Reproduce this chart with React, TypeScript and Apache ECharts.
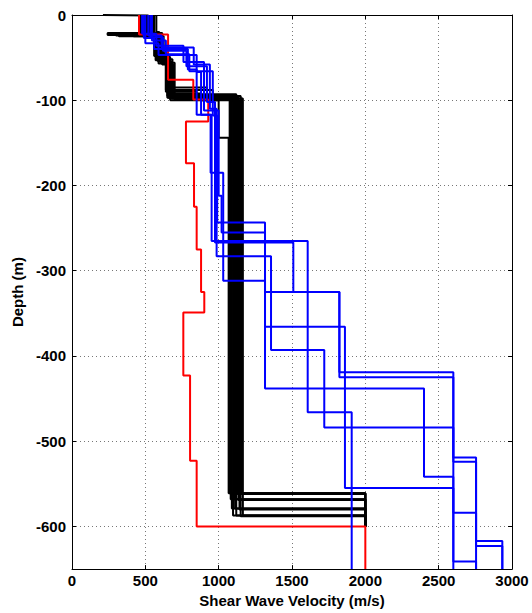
import React, { useEffect, useRef } from "react";
import * as echarts from "echarts";

// Axis ticks
const xTicks = [0, 500, 1000, 1500, 2000, 2500, 3000];
const depthTicks = [0, 100, 200, 300, 400, 500, 600];

// Red profile: layer boundary depths (m, positive down) and layer velocities (m/s)
const redDepths = [0, 23, 76, 99, 125, 174, 225, 275, 325, 349, 423, 523, 600, 650];
const redVel = [457, 655, 827, 929, 777, 832, 850, 880, 902, 759, 805, 850, 2000];

// Blue profiles
const blueDepths: number[][] = [
  [0, 27, 40, 64, 117, 265, 466, 650],
  [0, 24, 38, 58, 110, 283, 393, 484, 524, 623, 650],
  [0, 30, 46, 66, 118, 243.5, 365.6, 555, 641, 650],
  [0, 33, 47, 67, 117, 185, 311.7, 438, 541.6, 584, 650],
  [0, 26, 42, 60, 102, 267, 325, 419, 519, 617, 650],
  [0, 22, 36, 55, 112, 212, 255, 325, 425, 650],
];
const blueVel: number[][] = [
  [490, 560, 790, 850, 952, 1607, 1907],
  [520, 610, 830, 940, 986, 1357, 1720, 2600, 2755, 2934],
  [545, 640, 800, 960, 990, 1316, 1861, 2600, 2755],
  [500, 590, 850, 880, 945, 1031, 1316, 2400, 2600, 2755],
  [535, 620, 780, 920, 975, 1509, 1823, 2600, 2755, 2934],
  [478, 575, 760, 900, 1000, 1020, 1316, 1823, 2600],
];

// Black profiles
const blackDepths: number[][] = [
  [0, 0.7, 22, 24, 52, 97, 561, 600],
  [0, 21, 23.5, 48, 90, 99, 568, 600],
  [0, 22, 25, 55, 85, 98, 579, 600],
  [0, 23, 45, 95, 587, 600],
  [0, 22, 24, 50, 100, 144, 561, 600],
  [0, 21, 58, 96, 568, 600],
  [0, 24, 53, 88, 98, 579, 600],
  [0, 22, 47, 93, 587, 600],
  [0, 23, 25, 56, 99, 562, 600],
  [0, 20, 50, 97, 569, 600],
  [0, 22, 54, 92, 100, 580, 600],
  [0, 21, 49, 95, 588, 600],
  [0, 23, 52, 98, 561, 600],
  [0, 22, 57, 98, 587, 600],
];
const blackVel: number[][] = [
  [211, 520, 300, 590, 660, 1075, 2000],
  [480, 243, 560, 640, 850, 1082, 2000],
  [500, 320, 600, 680, 920, 1090, 2000],
  [530, 580, 650, 1098, 2000],
  [545, 380, 610, 670, 1000, 1068, 2000],
  [560, 615, 690, 1105, 2000],
  [470, 570, 640, 960, 1112, 2000],
  [510, 600, 665, 1120, 2000],
  [555, 420, 625, 700, 1128, 2000],
  [575, 595, 650, 1135, 2000],
  [490, 585, 675, 880, 1142, 2000],
  [535, 605, 655, 1150, 2000],
  [520, 575, 685, 1158, 2000],
  [500, 590, 665, 1165, 2000],
];

function stepPoints(depths: number[], vel: number[]): number[][] {
  const pts: number[][] = [];
  for (let i = 0; i < vel.length; i++) {
    pts.push([vel[i], depths[i]]);
    pts.push([vel[i], depths[i + 1]]);
  }
  return pts;
}

function makeSeries(depths: number[], vel: number[], color: string, name: string) {
  return {
    name,
    type: "line",
    data: stepPoints(depths, vel),
    symbol: "none",
    showSymbol: false,
    silent: true,
    clip: true,
    lineStyle: { color, width: 2 },
    xAxisIndex: 0,
    yAxisIndex: 0,
  };
}

const FONT = "'Liberation Sans', Arial, Helvetica, sans-serif";

export default function App() {
  const ref = useRef<HTMLDivElement>(null);
  useEffect(() => {
    if (!ref.current) return;
    const chart = echarts.init(ref.current, undefined, { renderer: "svg" });
    const series: any[] = [];
    blackDepths.forEach((d, i) => series.push(makeSeries(d, blackVel[i], "#000000", "black" + i)));
    series.push(makeSeries(redDepths, redVel, "#ff0000", "red"));
    blueDepths.forEach((d, i) => series.push(makeSeries(d, blueVel[i], "#0000ff", "blue" + i)));

    const labelStyle = { fontFamily: FONT, fontWeight: "bold", fontSize: 15, color: "#000" };
    const gridLine = { show: true, lineStyle: { color: "#777", width: 1, type: [1, 3] } };

    chart.setOption({
      animation: false,
      backgroundColor: "#fff",
      grid: { left: 72, top: 15, width: 440, height: 556, containLabel: false },
      xAxis: [
        {
          type: "value",
          position: "bottom",
          min: xTicks[0],
          max: xTicks[xTicks.length - 1],
          interval: 500,
          name: "Shear Wave Velocity (m/s)",
          nameLocation: "middle",
          nameGap: 22,
          nameTextStyle: labelStyle,
          axisLine: { show: true, onZero: false, lineStyle: { color: "#000", width: 1 } },
          axisTick: { show: true, inside: true, length: 4, lineStyle: { color: "#000" } },
          axisLabel: {
            ...labelStyle,
            margin: 4,
            formatter: (v: number) => (xTicks.indexOf(v) >= 0 ? String(v) : ""),
          },
          splitLine: gridLine,
        },
        {
          type: "value",
          position: "top",
          min: xTicks[0],
          max: xTicks[xTicks.length - 1],
          interval: 500,
          axisLine: { show: true, onZero: false, lineStyle: { color: "#000", width: 1 } },
          axisTick: { show: true, inside: true, length: 4, lineStyle: { color: "#000" } },
          axisLabel: { show: false },
          splitLine: { show: false },
        },
      ],
      yAxis: [
        {
          type: "value",
          position: "left",
          inverse: true,
          min: depthTicks[0],
          max: 650,
          interval: 100,
          name: "Depth (m)",
          nameLocation: "middle",
          nameGap: 40,
          nameTextStyle: labelStyle,
          axisLine: { show: true, onZero: false, lineStyle: { color: "#000", width: 1 } },
          axisTick: { show: true, inside: true, length: 4, lineStyle: { color: "#000" } },
          axisLabel: {
            ...labelStyle,
            margin: 6,
            formatter: (v: number) =>
              depthTicks.indexOf(v) >= 0 ? (v === 0 ? "0" : "-" + v) : "",
          },
          splitLine: gridLine,
        },
        {
          type: "value",
          position: "right",
          inverse: true,
          min: 0,
          max: 650,
          interval: 100,
          axisLine: { show: true, onZero: false, lineStyle: { color: "#000", width: 1 } },
          axisTick: { show: true, inside: true, length: 4, lineStyle: { color: "#000" } },
          axisLabel: { show: false },
          splitLine: { show: false },
        },
      ],
      series,
    });
    return () => chart.dispose();
  }, []);
  return (
    <div
      ref={ref}
      style={{ position: "fixed", left: 0, top: 0, width: 532, height: 613, background: "#fff" }}
    />
  );
}
